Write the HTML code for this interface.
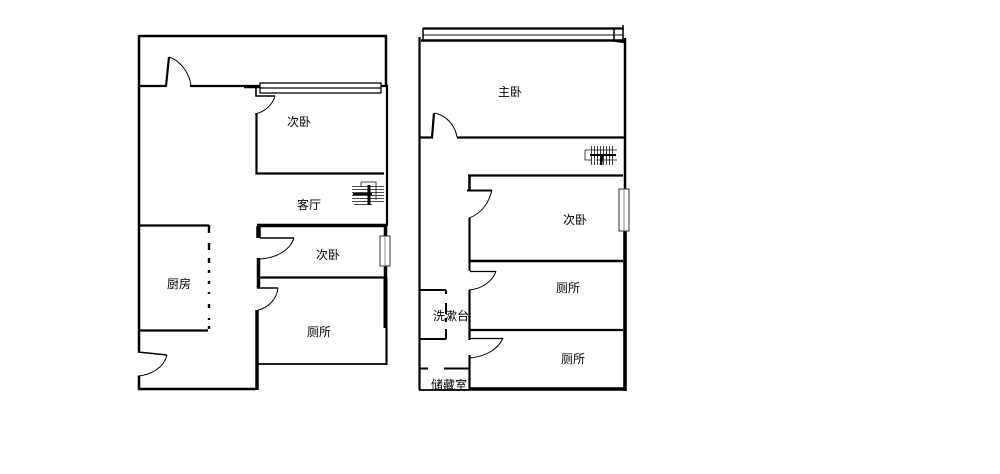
<!DOCTYPE html>
<html><head><meta charset="utf-8">
<style>
html,body{margin:0;padding:0;background:#fff;width:1000px;height:474px;overflow:hidden}
svg{display:block;filter:blur(.3px)}
text{font-family:"Liberation Sans","Noto Sans CJK SC",sans-serif;font-size:12px;fill:#000;text-anchor:middle}
</style></head><body>
<svg width="1000" height="474" viewBox="0 0 1000 474" xmlns="http://www.w3.org/2000/svg">
<rect width="1000" height="474" fill="#fff"/>
<g fill="none" stroke="#000" stroke-width="2">
<!-- LEFT PLAN -->
<path d="M139 36H386V85M139 35V352M139 376V389H256" stroke-width="2.500"/>
<path d="M139 86H166L169 57M191 87V86H260" stroke-width="2.200"/>
<path d="M169 57C181 61 190 74 191 86" stroke-width="1"/>
<path d="M244 87H260" stroke-width="2.500"/>
<path d="M381 86H387V226" stroke-width="2.200"/>
<rect x="260" y="83" width="121" height="10" fill="#fff" stroke-width="1.300"/>
<path d="M260 88H381" stroke-width="1.200"/>
<path d="M256 88V96H275" stroke-width="1.600"/>
<path d="M275 96C272 106 264 112 255 114" stroke-width="1"/>
<path d="M256.500 114V173.500H384" stroke-width="2.200"/>
<path d="M139 225.500H209M139 330.500H208" stroke-width="2.200"/>
<path d="M209 225V233M209 243V250M209 258V263M209 270V273M209 281V284M209 292V294M209 304V308M209 318V320M209 326V329" stroke-width="2.400"/>
<path d="M138 352L167 355" stroke-width="1.500"/>
<path d="M167 355C164 367 152 375 138 376" stroke-width="1"/>
<path d="M257 225.500H387" stroke-width="3.500"/>
<path d="M258.500 226V238" stroke-width="4.500"/>
<path d="M260 238H294" stroke-width="1.500"/>
<path d="M294 238C290 250 277 258 260 259" stroke-width="1"/>
<path d="M258.500 258V288" stroke-width="3.500"/>
<path d="M257 288H278" stroke-width="1.500"/>
<path d="M278 288C277 299 268 308 258 310" stroke-width="1"/>
<path d="M257 310V390" stroke-width="3.500"/>
<path d="M260 277.500H386" stroke-width="2.200"/>
<path d="M258 364H387" stroke-width="1.800"/>
<path d="M385.500 226V236M385.500 266V277" stroke-width="3.500"/>
<path d="M385.500 277V328" stroke-width="4"/>
<path d="M386.500 328V365" stroke-width="2.200"/>
<rect x="380" y="236" width="10" height="30" fill="#fff" stroke="#333" stroke-width="1"/>
<path d="M385 236V266" stroke="#777" stroke-width=".8"/>
<!-- left stairs -->
<g stroke-width=".8" stroke="#111">
<path d="M352 186.500H384M352 189.500H384M352 192.500H384M352 195.500H384M352 198.500H384M352 201.500H384M354 204.500H372"/>
<path d="M361 182H376V200M361 182V187"/>
</g>
<path d="M369 185V205" stroke-width="3"/>
<path d="M353 194H372" stroke-width="2"/>

<!-- RIGHT PLAN -->
<path d="M423 28.500H624" stroke-width="2.200"/>
<path d="M423 35H623" stroke-width="1.300" stroke="#444"/>
<path d="M421 40.500H624" stroke-width="2.500"/>
<path d="M423 28V41" stroke-width="1.500"/>
<path d="M614 28V41L624 42.500M623 25V41" stroke-width="1.500"/>
<path d="M419.500 37V390" stroke-width="2.200"/>
<path d="M625 38V190" stroke-width="2.500"/>
<path d="M419 137.500H432L434 113" stroke-width="2.200"/>
<path d="M434 113C446 115 455 125 457 137" stroke-width="1"/>
<path d="M457 137.500H625" stroke-width="2.200"/>
<path d="M468 175.500H623" stroke-width="2.200"/>
<path d="M469.500 175V190" stroke-width="2.500"/>
<path d="M467 190.500H492" stroke-width="2"/>
<path d="M492 190C489 203 481 214 469 218" stroke-width="1"/>
<path d="M469.500 218V262" stroke-width="2.200"/>
<path d="M470 261H623" stroke-width="2.400"/>
<path d="M469.500 261V271" stroke-width="2"/>
<path d="M470 271.500H496" stroke-width="1.300"/>
<path d="M496 271C493 281 482 289 469 290" stroke-width="1"/>
<path d="M469.500 290V340" stroke-width="2.200"/>
<path d="M470 330H623" stroke-width="2.200"/>
<path d="M470 338.500H503" stroke-width="1.300"/>
<path d="M503 338C498 350 484 357 469 358" stroke-width="1"/>
<path d="M469.500 355V390" stroke-width="2.200"/>
<path d="M419 368.500H428M444 368.500H469" stroke-width="2"/>
<path d="M419 390H469" stroke-width="1.800"/>
<path d="M469 389H626" stroke-width="3.600"/>
<path d="M625 231V391" stroke-width="3.600"/>
<path d="M420 290H446M420 339H446" stroke-width="2"/>
<path d="M446 290V294M446 303V314M446 318V322M446 329V339" stroke-width="2"/>
<rect x="619" y="189" width="10" height="42" fill="#fff" stroke="#333" stroke-width="1"/>
<path d="M624 189V231" stroke="#777" stroke-width=".8"/>
<!-- right stairs -->
<g stroke-width=".8" stroke="#111">
<path d="M591.500 146V165M594.500 146V165M597.500 146V165M600.500 146V165M603.500 146V165M606.500 146V165M609.500 146V165M612.500 146V165"/>
<path d="M585 150H617M585 150V160H592M596 160H617"/>
</g>
<path d="M590 155H616" stroke-width="2"/>
<path d="M602 155L601 165" stroke-width="2.500"/>
</g>
<text x="299" y="126">次卧</text>
<text x="309" y="209">客厅</text>
<text x="328" y="259">次卧</text>
<text x="179" y="288">厨房</text>
<text x="319" y="336">厕所</text>
<text x="510" y="96">主卧</text>
<text x="575" y="224">次卧</text>
<text x="568" y="292">厕所</text>
<text x="451" y="320">洗漱台</text>
<text x="573" y="363">厕所</text>
<text x="449" y="389">储藏室</text>
</svg>
</body></html>
